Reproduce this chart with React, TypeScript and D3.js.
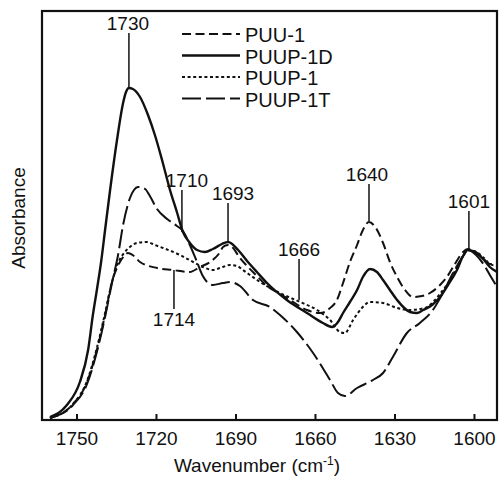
import React from "react";
import * as d3 from "d3";

// ---- Data (wavenumber cm-1, absorbance a.u.) ----
const puu1: [number, number][] = [
  [1760.2, 0.02], [1751.5, 0.16], [1746.2, 0.38], [1742.5, 0.70], [1739.4, 1.05],
  [1736.8, 1.38], [1733.8, 1.58], [1731.9, 1.65], [1730.8, 1.67], [1728.5, 1.64],
  [1726.2, 1.58], [1719.8, 1.52], [1713.8, 1.50], [1707.4, 1.48], [1703.6, 1.53],
  [1699.8, 1.58], [1696.0, 1.68], [1694.9, 1.73], [1693.0, 1.75], [1691.5, 1.73],
  [1688.5, 1.62], [1685.8, 1.54], [1682.1, 1.44], [1678.3, 1.34], [1673.4, 1.26],
  [1669.6, 1.20], [1663.2, 1.10], [1658.3, 1.07], [1654.5, 1.12], [1651.9, 1.20],
  [1649.6, 1.37], [1647.0, 1.58], [1644.3, 1.75], [1642.1, 1.90], [1639.8, 1.98],
  [1637.2, 1.92], [1634.5, 1.77], [1631.9, 1.58], [1629.2, 1.43], [1626.2, 1.30],
  [1623.2, 1.23], [1619.8, 1.24], [1616.8, 1.27], [1613.0, 1.35], [1610.4, 1.43],
  [1607.4, 1.56], [1604.3, 1.68], [1602.5, 1.71], [1599.4, 1.68], [1596.8, 1.62],
  [1594.2, 1.56], [1591.5, 1.57],
];

const puup1d: [number, number][] = [
  [1760.2, 0.03], [1753.8, 0.15], [1748.9, 0.38], [1745.8, 0.70], [1744.0, 1.05],
  [1742.5, 1.30], [1740.9, 1.58], [1739.4, 1.90], [1737.5, 2.30], [1734.9, 2.80],
  [1732.6, 3.17], [1731.5, 3.28], [1730.4, 3.32], [1728.9, 3.31], [1726.2, 3.23],
  [1723.2, 3.05], [1720.6, 2.85], [1717.9, 2.60], [1714.9, 2.30], [1712.3, 2.08],
  [1710.0, 1.88], [1707.4, 1.77], [1704.7, 1.70], [1701.7, 1.68], [1698.7, 1.71],
  [1695.3, 1.76], [1693.0, 1.78], [1689.2, 1.70], [1685.8, 1.59], [1682.1, 1.48],
  [1678.3, 1.37], [1670.8, 1.20], [1663.2, 1.07], [1657.2, 0.97], [1653.8, 0.93],
  [1651.5, 0.98], [1649.6, 1.07], [1647.0, 1.18], [1644.3, 1.30], [1642.1, 1.43],
  [1639.4, 1.51], [1636.8, 1.48], [1634.5, 1.40], [1631.9, 1.30], [1629.2, 1.20],
  [1624.3, 1.08], [1621.7, 1.07], [1619.4, 1.10], [1616.0, 1.15], [1613.0, 1.23],
  [1610.0, 1.35], [1606.6, 1.50], [1604.3, 1.64], [1602.5, 1.70], [1599.4, 1.67],
  [1596.4, 1.60], [1594.2, 1.53], [1591.5, 1.48],
];

const puup1: [number, number][] = [
  [1760.2, 0.02], [1751.5, 0.16], [1746.2, 0.39], [1742.5, 0.72], [1739.4, 1.07],
  [1736.8, 1.38], [1734.5, 1.57], [1731.9, 1.68], [1729.6, 1.74], [1727.4, 1.77],
  [1723.6, 1.78], [1720.6, 1.75], [1717.5, 1.72], [1711.1, 1.65], [1706.2, 1.58],
  [1702.5, 1.53], [1698.7, 1.50], [1696.0, 1.52], [1692.3, 1.55], [1689.6, 1.54],
  [1687.4, 1.50], [1680.9, 1.38], [1673.4, 1.27], [1665.8, 1.18], [1659.4, 1.10],
  [1654.5, 1.00], [1650.8, 0.88], [1648.9, 0.87], [1645.8, 1.00], [1642.5, 1.12],
  [1639.4, 1.18], [1634.5, 1.17], [1629.2, 1.12], [1624.3, 1.10], [1620.6, 1.11],
  [1617.9, 1.13], [1614.9, 1.20], [1611.9, 1.30], [1609.2, 1.40], [1606.6, 1.53],
  [1604.3, 1.64], [1602.5, 1.70], [1599.4, 1.68], [1596.4, 1.62], [1594.2, 1.56],
  [1591.5, 1.54],
];

const puup1t: [number, number][] = [
  [1760.2, 0.02], [1751.5, 0.15], [1746.2, 0.36], [1742.5, 0.68], [1739.4, 1.03],
  [1736.8, 1.37], [1734.5, 1.65], [1732.6, 1.95], [1730.0, 2.22], [1728.5, 2.30],
  [1727.0, 2.33], [1724.3, 2.31], [1722.5, 2.24], [1719.8, 2.11], [1716.0, 2.01],
  [1712.3, 1.94], [1710.0, 1.89], [1707.4, 1.75], [1704.7, 1.58], [1702.5, 1.44],
  [1698.7, 1.35], [1694.9, 1.37], [1692.3, 1.38], [1688.5, 1.34], [1683.6, 1.20],
  [1677.2, 1.13], [1673.4, 1.05], [1667.0, 0.88], [1660.9, 0.67], [1654.5, 0.40],
  [1651.5, 0.27], [1648.9, 0.24], [1644.3, 0.32], [1638.3, 0.40], [1634.5, 0.47],
  [1630.8, 0.63], [1625.5, 0.87], [1620.6, 0.97], [1615.7, 1.10], [1611.9, 1.27],
  [1608.1, 1.47], [1604.3, 1.64], [1602.5, 1.70], [1599.4, 1.65], [1596.4, 1.55],
  [1594.2, 1.45], [1591.5, 1.33],
];

const seriesNames = ["PUU-1", "PUUP-1D", "PUUP-1", "PUUP-1T"];
const xTicks = [1750, 1720, 1690, 1660, 1630, 1600];

// annotations: label, wavenumber of leader, leader top, leader bottom (absorbance), placement
const annLabels = ["1730", "1710", "1693", "1666", "1640", "1601", "1714"];
const annWave = [1730.4, 1710.4, 1693.0, 1666.2, 1639.8, 1602.1, 1713.4];
const annTop = [3.87, 2.30, 2.17, 1.61, 2.36, 2.09, 1.50];
const annBottom = [3.33, 1.88, 1.78, 1.20, 1.99, 1.71, 1.11];
const annBelow = [false, false, false, false, false, false, true];

// ---- Layout ----
const W = 501;
const H = 477;
const left = 42;
const right = 497;
const top = 11;
const bottom = 420;
const FONT = "'Liberation Sans', Arial, Helvetica, sans-serif";

const styles: Record<string, { dash: string; width: number }> = {
  "PUU-1": { dash: "9,4.5", width: 2 },
  "PUUP-1D": { dash: "", width: 2.4 },
  "PUUP-1": { dash: "3,2.6", width: 2 },
  "PUUP-1T": { dash: "19,5", width: 2 },
};
const annDx: Record<string, number> = { "1710": 5, "1693": 5, "1730": -1, "1640": -2 };

export default function App() {
  const x = d3.scaleLinear().domain([1763.2, 1591.5]).range([left, right]);
  const y = d3.scaleLinear().domain([0, 4.09]).range([bottom, top]);
  const line = d3
    .line<[number, number]>()
    .x((d) => x(d[0]))
    .y((d) => y(d[1]))
    .curve(d3.curveMonotoneX);

  const data = [puu1, puup1d, puup1, puup1t];

  return (
    <svg
      width={W}
      height={H}
      style={{ position: "absolute", left: 0, top: 0, background: "#fff" }}
      fontFamily={FONT}
    >
      <rect x={0} y={0} width={W} height={H} fill="#fff" />
      <defs>
        <clipPath id="plot">
          <rect x={left} y={top} width={right - left} height={bottom - top} />
        </clipPath>
      </defs>

      <g clipPath="url(#plot)">
        {data.map((d, i) => (
          <path
            key={seriesNames[i]}
            d={line(d) || ""}
            fill="none"
            stroke="#111"
            strokeWidth={styles[seriesNames[i]].width}
            strokeDasharray={styles[seriesNames[i]].dash || undefined}
            strokeLinejoin="round"
          />
        ))}
      </g>

      {/* frame */}
      <rect
        x={left}
        y={top}
        width={right - left}
        height={bottom - top}
        fill="none"
        stroke="#111"
        strokeWidth={2.2}
      />

      {/* x ticks */}
      {xTicks.map((t) => (
        <g key={t}>
          <line x1={x(t)} x2={x(t)} y1={bottom} y2={bottom - 6} stroke="#111" strokeWidth={2} />
          <text x={x(t)} y={445} textAnchor="middle" fontSize={19} fill="#111">
            {t}
          </text>
        </g>
      ))}

      <text x={257} y={472} textAnchor="middle" fontSize={19} fill="#111">
        Wavenumber (cm
        <tspan fontSize={12} dy={-7}>-1</tspan>
        <tspan dy={7}>)</tspan>
      </text>

      <text
        transform={`translate(25,218) rotate(-90)`}
        textAnchor="middle"
        fontSize={19}
        fill="#111"
      >
        Absorbance
      </text>

      {/* annotations */}
      {annLabels.map((lab, i) => {
        const xx = x(annWave[i]);
        const yt = y(annTop[i]);
        const yb = y(annBottom[i]);
        const dx = annDx[lab] || 0;
        return (
          <g key={lab}>
            <line x1={xx} x2={xx} y1={yt} y2={yb} stroke="#111" strokeWidth={1.5} />
            <text
              x={xx + dx}
              y={annBelow[i] ? yb + 17 : yt - 3}
              textAnchor="middle"
              fontSize={19}
              fill="#111"
            >
              {lab}
            </text>
          </g>
        );
      })}

      {/* legend */}
      {seriesNames.map((name, i) => {
        const base = 42 + i * 21.5;
        return (
          <g key={name}>
            <line
              x1={182}
              x2={240}
              y1={base - 8}
              y2={base - 8}
              stroke="#111"
              strokeWidth={styles[name].width}
              strokeDasharray={styles[name].dash || undefined}
            />
            <text x={245} y={base} fontSize={20} fill="#111">
              {name}
            </text>
          </g>
        );
      })}
    </svg>
  );
}
